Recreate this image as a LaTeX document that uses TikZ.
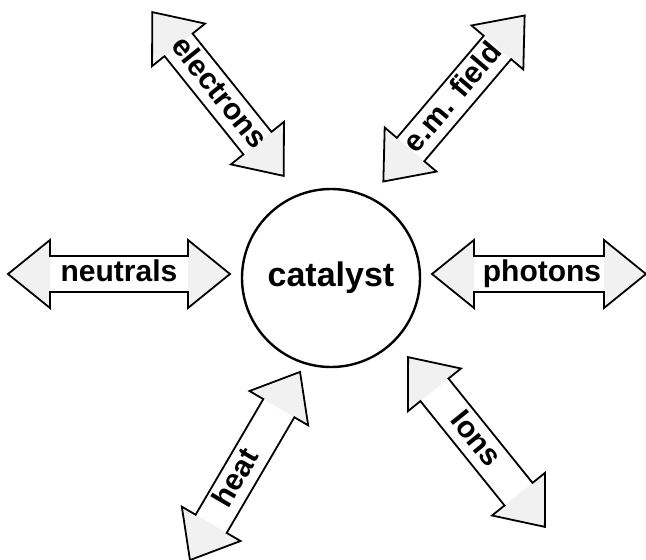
\documentclass[tikz,border=0pt]{standalone}
\usepackage{fontspec}
\setmainfont{Liberation Sans}

% Double-headed block arrow with a label along its axis.
% #1 node name, #2 #3 centre (x, y measured downwards), #4 angle,
% #5 tip-to-tip length, #6 label shift along the axis, #7 label text
\newcommand\dblarrow[7]{%
  \begin{scope}[shift={(#2,-#3)}, rotate=#4]
    \pgfmathsetmacro\halflen{#5/2}
    \pgfmathsetmacro\headback{#5/2-42}
    \fill[headfill] (-\halflen,0) -- (-\headback,34) -- (-\headback,-34) -- cycle;
    \fill[headfill] (\halflen,0) -- (\headback,34) -- (\headback,-34) -- cycle;
    \draw[outline] (-\halflen,0) -- (-\headback,34) -- (-\headback,18)
      -- (\headback,18) -- (\headback,34) -- (\halflen,0)
      -- (\headback,-34) -- (\headback,-18) -- (-\headback,-18)
      -- (-\headback,-34) -- cycle;
    \node[lbl, transform shape] (#1) at (#6,0) {#7};
  \end{scope}}

\begin{document}
\begin{tikzpicture}[x=1pt, y=1pt,
  outline/.style={draw=black, line width=1.8pt, line join=miter},
  headfill/.style={fill=gray!11},
  lbl/.style={font=\fontsize{30}{36}\selectfont\bfseries, inner sep=0pt,
    text height=21.6pt, text depth=6pt},
  core/.style={circle, draw=black, line width=2.4pt, minimum size=178pt,
    inner sep=0pt, font=\fontsize{34}{40}\selectfont\bfseries,
    text height=24.5pt, text depth=6.8pt}]
\fill[white] (0,0) rectangle (646,-560);
\useasboundingbox (0,0) rectangle (646,-560);

% central catalyst
\node[core] (catalyst) at (331,-278) {catalyst};

% exchange channels around it
\dblarrow{electrons}{218}{94}{-51.25}{210}{0}{electrons}
\dblarrow{emfield}{454}{98.5}{49.6}{218}{0}{e.m. field}
\dblarrow{neutrals}{119}{274}{0}{222}{0}{neutrals}
\dblarrow{photons}{539}{274}{0}{214}{3}{photons}
\dblarrow{heat}{245}{466}{59.67}{218}{-15}{heat}
\dblarrow{ions}{476.5}{442}{-51.14}{218}{-3}{Ions}
\end{tikzpicture}
\end{document}
